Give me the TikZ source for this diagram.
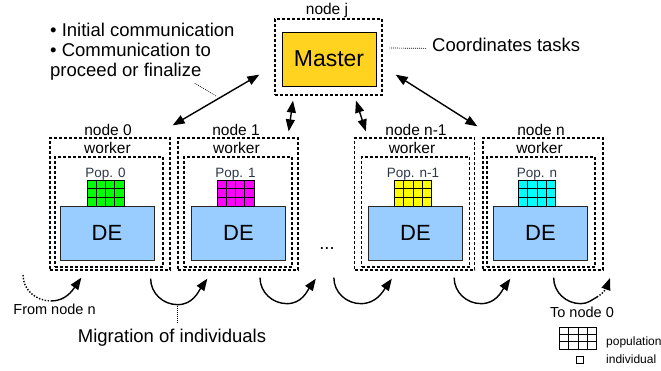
\documentclass[tikz,border=0pt]{standalone}
\usepackage{fontspec}
\setmainfont{Liberation Sans}
\usepackage{xcolor}
\usetikzlibrary{arrows.meta,calc}

\definecolor{masteryellow}{HTML}{FFD320}
\definecolor{deblue}{HTML}{99CCFF}
\definecolor{popgreen}{HTML}{00FF00}
\definecolor{popmagenta}{HTML}{FF00FF}
\definecolor{popyellow}{HTML}{FFFF00}
\definecolor{popcyan}{HTML}{00FFFF}
\definecolor{poptext}{HTML}{2D3748}

\begin{document}
\begin{tikzpicture}[x=1pt, y=1pt,
    nodebox/.style={rectangle, draw, line width=1.3pt, dash pattern=on 3pt off 2pt, inner sep=0pt, minimum width=120pt, minimum height=132pt},
    workerbox/.style={nodebox, minimum width=108pt, minimum height=110pt},
    masterbox/.style={rectangle, draw, line width=0.9pt, fill=masteryellow, inner sep=0pt, minimum width=94pt, minimum height=54pt, font=\fontsize{23}{25}\selectfont},
    debox/.style={rectangle, draw=black!85, line width=0.9pt, fill=deblue, inner sep=0pt, minimum width=94pt, minimum height=54pt, font=\fontsize{22}{24}\selectfont},
    popgrid/.style={rectangle, draw, line width=0.8pt, fill=#1, inner sep=0pt, minimum width=37pt, minimum height=26pt,
        path picture={
            \foreach \f in {0.25,0.5,0.75}
                \draw[line width=0.8pt] ($(path picture bounding box.south west)!\f!(path picture bounding box.south east)$) -- ($(path picture bounding box.north west)!\f!(path picture bounding box.north east)$);
            \foreach \f in {0.3333,0.6667}
                \draw[line width=0.8pt] ($(path picture bounding box.south west)!\f!(path picture bounding box.north west)$) -- ($(path picture bounding box.south east)!\f!(path picture bounding box.north east)$);
        }},
    lbl/.style={inner sep=0pt, anchor=base, font=\fontsize{15.5}{17}\selectfont},
    poplbl/.style={lbl, text=poptext, font=\fontsize{13.5}{15}\selectfont},
    txt/.style={inner sep=0pt, font=\fontsize{18.5}{20}\selectfont},
    small/.style={inner sep=0pt, anchor=base, font=\fontsize{14.5}{16}\selectfont},
    legend/.style={inner sep=0pt, anchor=base west, font=\fontsize{12}{14}\selectfont},
    link/.style={{Triangle[length=12pt,width=9pt]}-{Triangle[length=12pt,width=9pt]}, line width=1.4pt},
    migr/.style={-{Triangle[length=12pt,width=9pt]}, line width=1.4pt},
    dotmigr/.style={line width=1.4pt, dash pattern=on 1.4pt off 1.6pt},
    leader/.style={line width=0.7pt, dash pattern=on 0.8pt off 1.2pt}
]
    \useasboundingbox (0,0) rectangle (661,370);

    % master
    \node[nodebox, minimum width=107pt, minimum height=76pt] (masternode) at (328.5,313) {};
    \node[masterbox] (master) at (329,311) {Master};
    \node[lbl] (nodej) at (327,355) {node j};
    \node[txt, anchor=base west] (coord) at (432,318) {Coordinates tasks};
    \node[txt, anchor=north west, align=left] (comm) at (50,347.5) {\textbullet{} Initial communication\\\textbullet{} Communication to\\proceed or finalize};

    % workers
    \node[nodebox] (node0) at (110,166) {};
    \node[workerbox] (worker0) at (109,158) {};
    \node[debox] (de0) at (107,137) {DE};
    \node[popgrid=popgreen] (pop0) at (105.5,177) {};
    \node[lbl] (nlbl0) at (108,234) {node 0};
    \node[lbl] (wlbl0) at (107.5,216) {worker};
    \node[poplbl] (plbl0) at (105.5,193) {Pop. 0};

    \node[nodebox] (node1) at (238,166) {};
    \node[workerbox] (worker1) at (238,158) {};
    \node[debox] (de1) at (238.5,137) {DE};
    \node[popgrid=popmagenta] (pop1) at (235.5,177) {};
    \node[lbl] (nlbl1) at (236,234) {node 1};
    \node[lbl] (wlbl1) at (236.5,216) {worker};
    \node[poplbl] (plbl1) at (235.5,193) {Pop. 1};

    \node[txt, anchor=base] (dots) at (327,120.5) {...};

    \node[nodebox] (node2) at (414.5,166) {};
    \node[workerbox] (worker2) at (415.5,158) {};
    \node[debox] (de2) at (415.5,137) {DE};
    \node[popgrid=popyellow] (pop2) at (413,177) {};
    \node[lbl] (nlbl2) at (416,234) {node n-1};
    \node[lbl] (wlbl2) at (412,216) {worker};
    \node[poplbl] (plbl2) at (413,193) {Pop. n-1};

    \node[nodebox] (node3) at (543,166) {};
    \node[workerbox] (worker3) at (541,158) {};
    \node[debox] (de3) at (540.5,137) {DE};
    \node[popgrid=popcyan] (pop3) at (537,177) {};
    \node[lbl] (nlbl3) at (541,234) {node n};
    \node[lbl] (wlbl3) at (539.5,216) {worker};
    \node[poplbl] (plbl3) at (537,193) {Pop. n};

    % master <-> workers
    \draw[link] ([xshift=-15pt,yshift=21pt]masternode.south west) -- coordinate[pos=0.5] (a1m) ([xshift=2pt,yshift=12pt]node0.north east);
    \draw[link] ([xshift=-35.5pt,yshift=-5pt]masternode.south) -- ([xshift=-10pt,yshift=6pt]node1.north east);
    \draw[link] ([xshift=27.5pt,yshift=-5pt]masternode.south) -- ([xshift=12pt,yshift=6pt]node2.north west);
    \draw[link] ([xshift=13pt,yshift=21pt]masternode.south east) -- ([xshift=-5pt,yshift=11pt]node3.north west);

    \draw[leader] ([xshift=-40pt,yshift=-3pt]comm.south east) -- ([yshift=4pt]a1m);
    \draw[leader] ([xshift=-6pt,yshift=-3pt]coord.west) -- ([xshift=7pt,yshift=9pt]masternode.east);

    % migration
    \node[small] (fromn) at (54.5,56) {From node n};
    \node[small] (ton0) at (582,53) {To node 0};
    \node[txt, anchor=base] (migr) at (172,28) {Migration of individuals};
    \coordinate (fromstart) at (23,95);
    \coordinate (fromturn) at (51,69);
    \coordinate (toturn) at (597,73);
    \coordinate (toend) at (610,92);

    \draw[dotmigr] (fromstart) to[out=-90,in=180] (fromturn);
    \draw[migr] (fromturn) to[out=0,in=-125] ([xshift=32pt,yshift=-7pt]node0.south west);
    \draw[migr] ([xshift=-20pt,yshift=-8pt]node0.south east) to[out=-90,in=180] ++(27,-26) coordinate (m1b) to[out=0,in=-125] ([xshift=30pt,yshift=-8pt]node1.south west);
    \draw[migr] ([xshift=22pt,yshift=-7pt]node1.south) to[out=-90,in=180] ++(27,-26) to[out=0,in=-125] ([xshift=-38pt,yshift=-8pt]node2.south west);
    \draw[migr] ([xshift=-20pt,yshift=-7pt]node2.south west) to[out=-90,in=180] ++(27,-26) to[out=0,in=-125] ([xshift=38pt,yshift=-8pt]node2.south west);
    \draw[migr] ([xshift=-21pt,yshift=-7pt]node2.south east) to[out=-90,in=180] ++(27,-26) to[out=0,in=-125] ([xshift=28pt,yshift=-8pt]node3.south west);
    \draw[line width=1.4pt] ([xshift=-50pt,yshift=-7pt]node3.south east) to[out=-90,in=180] ++(27,-26) to[out=0,in=-150] (toturn);
    \draw[dotmigr, -{Triangle[length=12pt,width=9pt]}] (toturn) to[out=30,in=-110] (toend);

    \draw[leader] ([yshift=-1.5pt]m1b) -- ([yshift=5pt]m1b |- migr.north);

    % legend
    \node[popgrid=white, minimum width=37pt, minimum height=22pt] (legpop) at (578,32) {};
    \node[rectangle, draw, line width=0.8pt, inner sep=0pt, minimum size=7pt] (legind) at (579.5,10) {};
    \node[legend] (legpoplbl) at (606,25) {population};
    \node[legend] (legindlbl) at (606,7) {individual};
\end{tikzpicture}
\end{document}
